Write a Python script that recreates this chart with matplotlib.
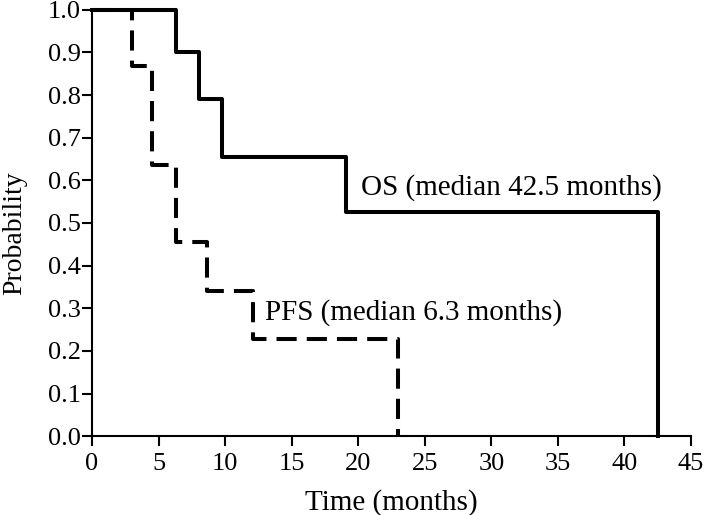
import matplotlib
matplotlib.use('Agg')
import matplotlib.pyplot as plt

plt.rcParams['font.family'] = ['Liberation Serif', 'DejaVu Serif']

# Kaplan-Meier steps
os_time = [0, 6.3, 8.0, 9.8, 19.1, 42.5]
os_surv = [1.0, 0.90, 0.79, 0.655, 0.525, 0.0]
pfs_time = [0, 3.0, 4.5, 6.3, 8.6, 12.1, 23.0]
pfs_surv = [1.0, 0.868, 0.636, 0.455, 0.34, 0.227, 0.0]

x_ticks = list(range(0, 50, 5))
y_ticks = [i / 10 for i in range(11)]

fig = plt.figure(figsize=(7.08, 5.15), dpi=100)
ax = fig.add_axes([0.130, 0.153, 0.846, 0.828])

ax.step(pfs_time, pfs_surv, where='post', color='black', lw=2.9,
        linestyle=(0, (5, 2.5)), clip_on=False, zorder=3)
ax.step(os_time, os_surv, where='post', color='black', lw=2.9,
        clip_on=False, zorder=4)

ax.text(20.2, 0.582, 'OS (median 42.5 months)', fontsize=21, va='center')
ax.text(13.0, 0.289, 'PFS (median 6.3 months)', fontsize=21, va='center')

ax.set_xlim(0, 45)
ax.set_ylim(0, 1.0)
ax.set_xticks(x_ticks)
ax.set_yticks(y_ticks)
ax.set_yticklabels(['%.1f' % v for v in y_ticks])
ax.tick_params(labelsize=19, width=1.5, length=7, direction='out', pad=1)
ax.tick_params(axis='x', pad=5)
ax.spines['top'].set_visible(False)
ax.spines['right'].set_visible(False)
ax.spines['left'].set_linewidth(1.5)
ax.spines['bottom'].set_linewidth(1.5)
ax.set_xlabel('Time (months)', fontsize=21, labelpad=10)
ax.set_ylabel('Probability', fontsize=20, labelpad=15)
ax.yaxis.label.set_y(0.475)

fig.savefig('out.png', dpi=100)
